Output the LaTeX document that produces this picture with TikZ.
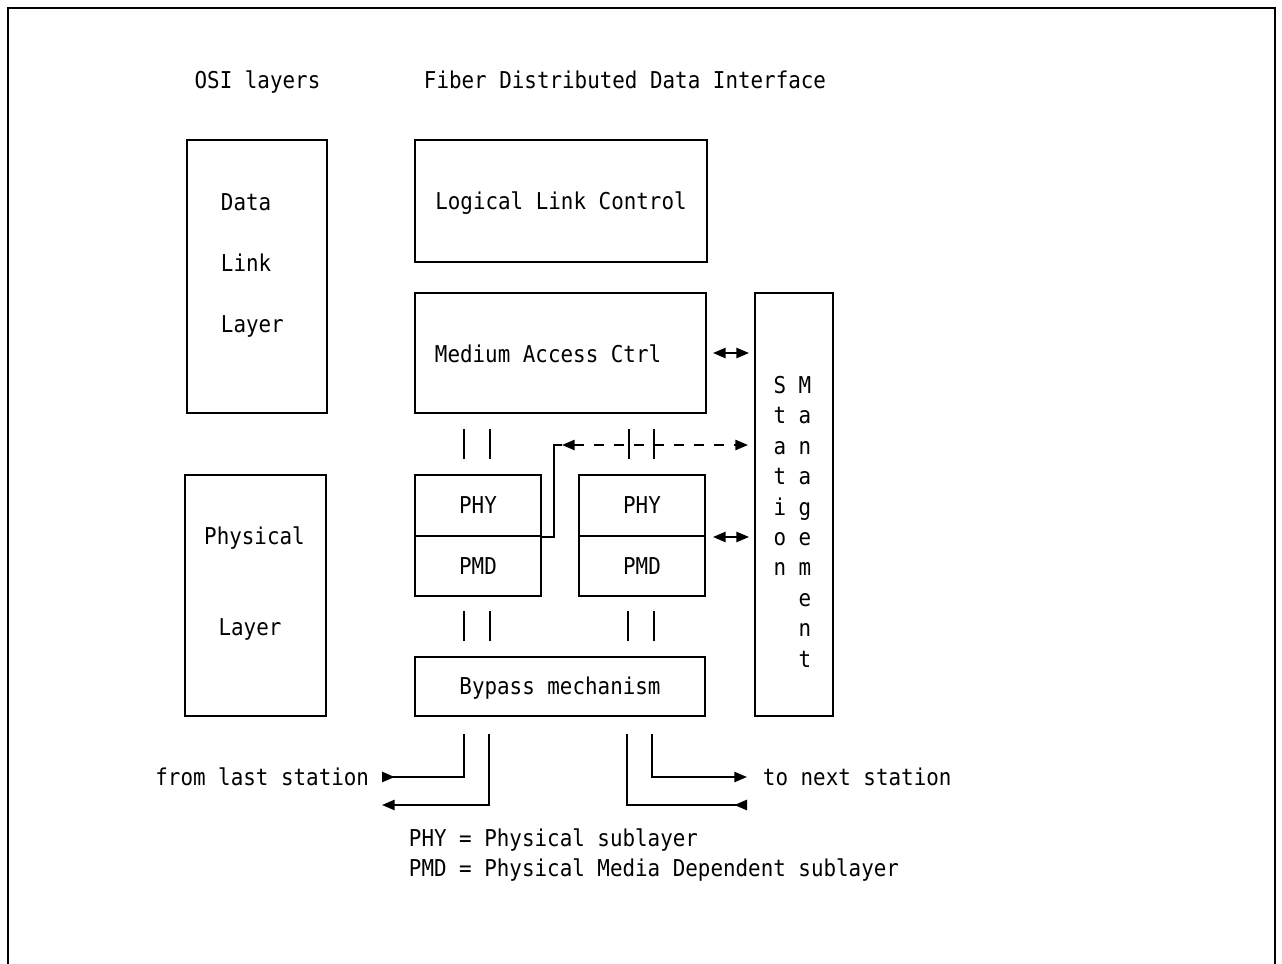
\documentclass[tikz,border=0pt]{standalone}
\usepackage{fontspec}
\newfontfamily\mono[FakeStretch=0.9]{DejaVu Sans Mono}
\usetikzlibrary{arrows.meta,fit,calc}
\begin{document}
\begin{tikzpicture}[x=0.02cm,y=-0.02cm,
  line width=1.1pt,
  box/.style={draw, rectangle, inner sep=0pt, line width=1.1pt},
  txt/.style={inner sep=0pt, font=\mono\fontsize{13.2pt}{16pt}\selectfont, text height=9.6pt, text depth=0pt},
  >={Triangle[length=7.2pt,width=5.8pt]}]
\useasboundingbox (0,0) rectangle (1282,964);
% frame
\draw (8,964) -- (8,8) -- (1275,8) -- (1275,964);

% headings
\node[txt] (hosi) at (257.5,80) {OSI layers};
\node[txt] (hfddi) at (625,80) {Fiber Distributed Data Interface};

% boxes
\node[box, fit={(187,140) (327,413)}] (dll) {};
\node[box, fit={(185,475) (326,716)}] (phl) {};
\node[box, fit={(415,140) (707,262)}] (llc) {};
\node[box, fit={(415,293) (706,413)}] (mac) {};
\node[box, fit={(415,475) (541,536)}] (phy1) {};
\node[box, fit={(415,536) (541,596)}] (pmd1) {};
\node[box, fit={(579,475) (705,536)}] (phy2) {};
\node[box, fit={(579,536) (705,596)}] (pmd2) {};
\node[box, fit={(415,657) (705,716)}] (bp) {};
\node[box, fit={(755,293) (833,716)}] (sm) {};

% box texts
\node[txt, anchor=west] (tdata) at (220,202) {Data};
\node[txt, anchor=west] (tlink) at (220,263) {Link};
\node[txt, anchor=west] (tlay1) at (220,324) {Layer};
\node[txt] (tphys) at (254.5,536) {Physical};
\node[txt] (tlay2) at (250,627) {Layer};
\node[txt] (tllc) at (llc) {Logical Link Control};
\node[txt, anchor=west] (tmac) at (434,354) {Medium Access Ctrl};
\node[txt] (tphy1) at (phy1) {PHY};
\node[txt] (tpmd1) at (pmd1) {PMD};
\node[txt] (tphy2) at (phy2) {PHY};
\node[txt] (tpmd2) at (pmd2) {PMD};
\node[txt] (tbp) at (bp) {Bypass mechanism};
\foreach \c [count=\i from 0] in {S,t,a,t,i,o,n}
  \node[txt] (sa\i) at (780,{385+30.4*\i}) {\c};
\foreach \c [count=\i from 0] in {M,a,n,a,g,e,m,e,n,t}
  \node[txt] (sb\i) at (805,{385+30.4*\i}) {\c};

% vertical double lines
\draw ($(phy1.north west)+(50,-15)$) -- ++(0,-30);
\draw ($(phy1.north west)+(76,-15)$) -- ++(0,-30);
\draw ($(phy2.north west)+(51,-15)$) -- ++(0,-30);
\draw ($(phy2.north west)+(76,-15)$) -- ++(0,-30);
\draw ($(bp.north west)+(50,-15)$) -- ++(0,-30);
\draw ($(bp.north west)+(76,-15)$) -- ++(0,-30);
\draw ($(bp.north west)+(214,-15)$) -- ++(0,-30);
\draw ($(bp.north west)+(240,-15)$) -- ++(0,-30);

% management arrows
\draw[<->] ($(mac.east)+(6,0)$) -- ($(sm.west |- mac.east)+(-5,0)$);
\draw[<->] ($(phy2.south east)+(7,0)$) -- ($(sm.west |- phy2.south east)+(-5,0)$);

% dashed management path
\coordinate (dl) at (562,445);
\coordinate (dr) at (748,445);
\draw[dash pattern=on 5.7pt off 5.7pt, <->] (dl) -- (dr);
\draw (phy1.south east) -- ++(12,0) |- (dl);

% ring connections
\coordinate (inL) at (382,777);
\coordinate (outL) at (382,805);
\coordinate (outR) at (747,777);
\coordinate (inR) at (747,805);
\draw[{Triangle[length=7.2pt,width=5.8pt,reversed]}-] (inL) -| ($(bp.south west)+(50,17)$);
\draw[->] ($(bp.south west)+(75,17)$) |- (outL);
\draw[->] ($(bp.south west)+(238,17)$) |- (outR);
\draw[-{Triangle[length=7.2pt,width=5.8pt,reversed]}] ($(bp.south west)+(213,17)$) |- (inR);

\node[txt, anchor=east] (tfrom) at (370,777) {from last station};
\node[txt, anchor=west] (tto) at (762,777) {to next station};

% legend
\node[txt, anchor=west] (leg1) at (408,838) {PHY = Physical sublayer};
\node[txt, anchor=west] (leg2) at (408,868) {PMD = Physical Media Dependent sublayer};
\end{tikzpicture}
\end{document}
